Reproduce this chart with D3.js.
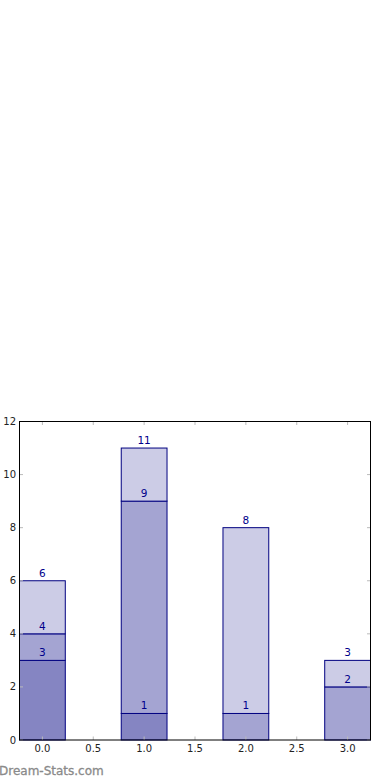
<!DOCTYPE html>
<html>
<head>
<meta charset="utf-8">
<script src="https://cdn.jsdelivr.net/npm/d3@7"></script>
<style>
  html, body { margin: 0; padding: 0; background: #fff; }
  svg { display: block; }
</style>
</head>
<body>
<div id="chart"></div>
<script>
// Data
const positions = [0, 1, 2, 3];
const seriesDark = [3, 1, 0, 0];
const seriesMid = [1, 8, 1, 2];
const seriesLight = [2, 2, 7, 1];
const xTicks = [0, 0.5, 1, 1.5, 2, 2.5, 3];
const yTicks = [0, 2, 4, 6, 8, 10, 12];

const keys = ["dark", "mid", "light"];
const colorByKey = { dark: "#8585c2", mid: "#a4a4d2", light: "#cccce6" };

const rows = positions.map((p, i) => ({
    pos: p, dark: seriesDark[i], mid: seriesMid[i], light: seriesLight[i]
}));

const W = 390, H = 780;
const plot = { left: 19.5, right: 370.5, top: 421.5, bottom: 740 };
const barWidth = 0.45;

const svg = d3.select("#chart").append("svg")
    .attr("width", W).attr("height", H);

const x = d3.scaleLinear()
    .domain([positions[0] - barWidth / 2, positions[positions.length - 1] + barWidth / 2])
    .range([plot.left, plot.right]);
const y = d3.scaleLinear().domain([0, 12]).range([plot.bottom, plot.top]);

const stacked = d3.stack().keys(keys)(rows);
const segments = stacked.flatMap(layer =>
    layer.filter(s => s[1] - s[0] > 0).map(s => ({ key: layer.key, y0: s[0], y1: s[1], pos: s.data.pos }))
);

// bars
svg.append("g").selectAll("rect")
    .data(segments).enter().append("rect")
    .attr("x", s => x(s.pos - barWidth / 2))
    .attr("width", s => x(s.pos + barWidth / 2) - x(s.pos - barWidth / 2))
    .attr("y", s => y(s.y1))
    .attr("height", s => y(s.y0) - y(s.y1))
    .attr("fill", s => colorByKey[s.key])
    .attr("stroke", "#000080")
    .attr("stroke-width", 1);

// value labels (cumulative tops), drawn above all bars
svg.append("g").selectAll("text")
    .data(segments).enter().append("text")
    .attr("x", s => x(s.pos))
    .attr("y", s => y(s.y1) - 4)
    .attr("text-anchor", "middle")
    .attr("font-family", "DejaVu Sans, sans-serif")
    .attr("font-size", 10.5)
    .attr("fill", "#00008b")
    .text(s => s.y1);

// axes: inward grey ticks on all sides
const tickLen = 3.5;
const tickColor = "#bbbbbb";
const axes = svg.append("g");

axes.selectAll("line.xb").data(xTicks).enter().append("line")
    .attr("x1", d => x(d)).attr("x2", d => x(d))
    .attr("y1", plot.bottom).attr("y2", plot.bottom - tickLen)
    .attr("stroke", tickColor);
axes.selectAll("line.xt").data(xTicks).enter().append("line")
    .attr("x1", d => x(d)).attr("x2", d => x(d))
    .attr("y1", plot.top).attr("y2", plot.top + tickLen)
    .attr("stroke", tickColor);
axes.selectAll("line.yl").data(yTicks).enter().append("line")
    .attr("x1", plot.left).attr("x2", plot.left + tickLen)
    .attr("y1", d => y(d)).attr("y2", d => y(d))
    .attr("stroke", tickColor);
axes.selectAll("line.yr").data(yTicks).enter().append("line")
    .attr("x1", plot.right).attr("x2", plot.right - tickLen)
    .attr("y1", d => y(d)).attr("y2", d => y(d))
    .attr("stroke", tickColor);

axes.selectAll("text.xl").data(xTicks).enter().append("text")
    .attr("x", d => x(d)).attr("y", plot.bottom + 12)
    .attr("text-anchor", "middle")
    .attr("font-family", "DejaVu Sans, sans-serif")
    .attr("font-size", 10).attr("fill", "#222")
    .text(d => d3.format(".1f")(d));
axes.selectAll("text.yl").data(yTicks).enter().append("text")
    .attr("x", plot.left - 3.5).attr("y", d => y(d) + 3.5)
    .attr("text-anchor", "end")
    .attr("font-family", "DejaVu Sans, sans-serif")
    .attr("font-size", 10).attr("fill", "#222")
    .text(d => d);

// frame
svg.append("rect")
    .attr("x", plot.left).attr("y", plot.top)
    .attr("width", plot.right - plot.left).attr("height", plot.bottom - plot.top)
    .attr("fill", "none").attr("stroke", "#000").attr("stroke-width", 1);

// watermark
svg.append("text")
    .attr("x", -1).attr("y", 775)
    .attr("font-family", "DejaVu Sans, sans-serif")
    .attr("font-size", 12)
    .attr("fill", "#8a8a8a")
    .attr("stroke", "#8a8a8a").attr("stroke-width", 0.3)
    .text("Dream-Stats.com");
</script>
</body>
</html>
